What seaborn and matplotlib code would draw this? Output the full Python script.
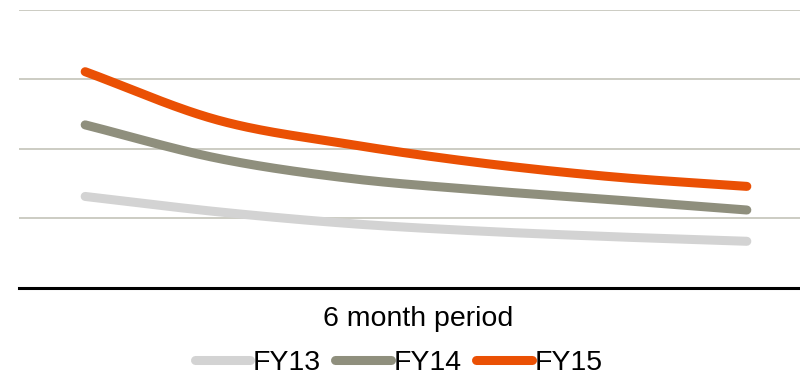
import numpy as np
import pandas as pd
import matplotlib
matplotlib.use("Agg")
import matplotlib.pyplot as plt
import seaborn as sns

# Six-month period readings per fiscal year
months = [1, 2, 3, 4, 5, 6]
fy13 = [1.31, 1.09, 0.92, 0.81, 0.73, 0.665]
fy14 = [2.34, 1.86, 1.57, 1.40, 1.26, 1.115]
fy15 = [3.105, 2.41, 2.06, 1.79, 1.59, 1.455]
series_names = ["FY13", "FY14", "FY15"]
colors = ["#D3D3D3", "#8F8F7D", "#EA5004"]


def smooth(xs, ys, steps=40):
    """Catmull-Rom curve through every point (spreadsheet-style smoothed line)."""
    xs = np.asarray(xs, float)
    ys = np.asarray(ys, float)
    n = len(xs)
    px = np.concatenate([[2 * xs[0] - xs[1]], xs, [2 * xs[-1] - xs[-2]]])
    py = np.concatenate([[2 * ys[0] - ys[1]], ys, [2 * ys[-1] - ys[-2]]])
    out_x, out_y = [], []
    for i in range(1, n):
        t = np.linspace(0, 1, steps, endpoint=(i == n - 1))
        for p, out in ((px, out_x), (py, out_y)):
            p0, p1, p2, p3 = p[i - 1], p[i], p[i + 1], p[i + 2]
            m1 = (p2 - p0) / 2
            m2 = (p3 - p1) / 2
            h00 = 2 * t**3 - 3 * t**2 + 1
            h10 = t**3 - 2 * t**2 + t
            h01 = -2 * t**3 + 3 * t**2
            h11 = t**3 - t**2
            out.extend(h00 * p1 + h10 * m1 + h01 * p2 + h11 * m2)
    return np.array(out_x), np.array(out_y)


frames = []
for name, vals in zip(series_names, [fy13, fy14, fy15]):
    sx, sy = smooth(months, vals)
    frames.append(pd.DataFrame({"month": sx, "value": sy, "year": name}))
df = pd.concat(frames, ignore_index=True)

sns.set_theme(style="white")
plt.rcParams["font.family"] = ["Liberation Sans", "DejaVu Sans"]
plt.rcParams["text.color"] = "black"

fig = plt.figure(figsize=(8, 3.75), dpi=100)
ax = fig.add_axes([19 / 800, (375 - 287.5) / 375, (813 - 19) / 800, (287.5 - 9.5) / 375])

for y in [1, 2, 3, 4]:
    ax.axhline(y, color="#C8C8BE", lw=1.3, zorder=0)

sns.lineplot(data=df, x="month", y="value", hue="year", palette=colors,
             hue_order=series_names, sort=False, estimator=None, lw=6.5,
             solid_capstyle="round", ax=ax, legend=False, zorder=3)

ax.set_xlim(0.5, 6.5)
ax.set_ylim(0, 4)
ax.set_xticks([])
ax.set_yticks([])
ax.set_xlabel("")
ax.set_ylabel("")
for side in ["top", "right", "left"]:
    ax.spines[side].set_visible(False)
ax.spines["bottom"].set_color("black")
ax.spines["bottom"].set_linewidth(2.2)
ax.spines["bottom"].set_zorder(5)

fig.text(418 / 800, 1 - 319 / 375, "6 month period", ha="center", va="center",
         fontsize=20.5, color="black")

handles = [plt.Line2D([], [], color=c, lw=6.5, solid_capstyle="round") for c in colors]
leg = fig.legend(handles, series_names, loc="center", ncol=3,
                 bbox_to_anchor=(398.5 / 800, 1 - 363 / 375), frameon=False,
                 fontsize=20.5, handlelength=1.95, handletextpad=0.1,
                 columnspacing=0.5, borderpad=0, borderaxespad=0)
for txt in leg.get_texts():
    txt.set_color("black")

fig.savefig("out.png", dpi=100)
